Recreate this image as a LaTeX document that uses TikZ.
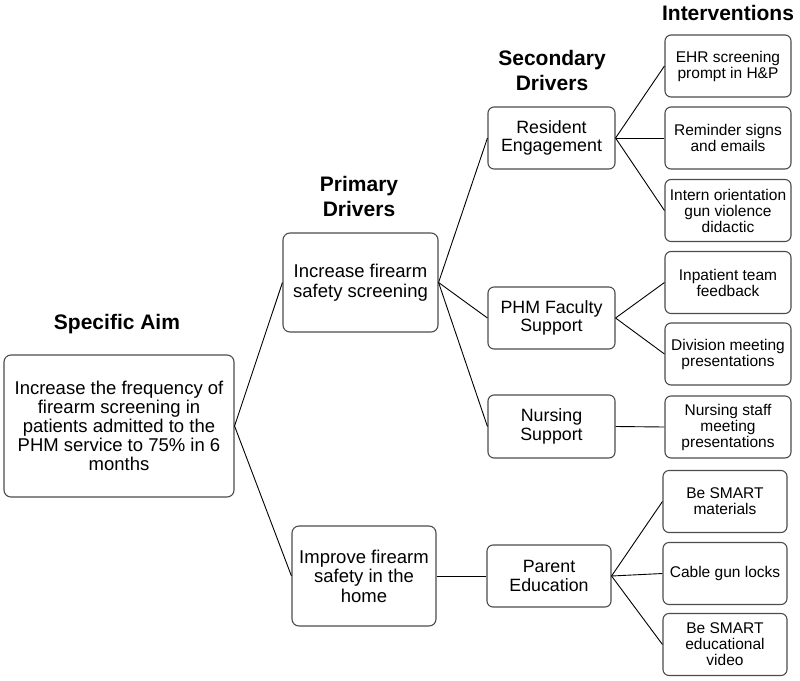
\documentclass[tikz,border=0pt]{standalone}
\usepackage{fontspec}
\setmainfont{Liberation Sans}
\begin{document}
\begin{tikzpicture}[x=1pt,y=-1pt,
  box/.style={draw=black!70,line width=1.1pt,rounded corners=7pt,align=center,inner sep=0pt},
  bigtxt/.style={font=\fontsize{18.5}{19}\selectfont},
  primtxt/.style={font=\fontsize{18.5}{19.5}\selectfont},
  midtxt/.style={font=\fontsize{17.8}{18.5}\selectfont},
  smalltxt/.style={font=\fontsize{15.5}{16}\selectfont},
  head/.style={font=\bfseries\fontsize{21}{25}\selectfont,align=center,inner sep=0pt},
  link/.style={draw=black,line width=0.9pt}]
\useasboundingbox (0,0) rectangle (800,680);
% headings
\node[head] (hAim) at (117,324) {Specific Aim};
\node[head] (hPrim) at (359,196) {Primary\\Drivers};
\node[head] (hSec) at (552,70) {Secondary\\Drivers};
\node[head] (hInt) at (728,13) {Interventions};
% aim
\node[box,bigtxt,minimum width=230pt,minimum height=142pt] (aim) at (119,426)
  {Increase the frequency of\\firearm screening in\\patients admitted to the\\PHM service to 75\% in 6\\months};
% primary drivers
\node[box,primtxt,minimum width=155pt,minimum height=99pt] (p1) at (360.5,282.5)
  {Increase firearm\\safety screening};
\node[box,primtxt,minimum width=144pt,minimum height=100pt] (p2) at (364,576)
  {Improve firearm\\safety in the\\home};
% secondary drivers
\node[box,midtxt,minimum width=127pt,minimum height=62pt,rounded corners=6pt] (s1) at (551.5,138) {Resident\\Engagement};
\node[box,midtxt,minimum width=127pt,minimum height=62pt,rounded corners=6pt] (s2) at (551.5,318) {PHM Faculty\\Support};
\node[box,midtxt,minimum width=127pt,minimum height=63pt,rounded corners=6pt] (s3) at (551.5,426.5) {Nursing\\Support};
\node[box,midtxt,minimum width=124pt,minimum height=62pt,rounded corners=6pt] (s4) at (549,576) {Parent\\Education};
% interventions
\tikzset{ibox/.style={box,smalltxt,minimum width=126pt,minimum height=62pt,rounded corners=6pt}}
\node[ibox] (i1) at (728,66) {EHR screening\\prompt in H\&P};
\node[ibox] (i2) at (728,138) {Reminder signs\\and emails};
\node[ibox] (i3) at (728,210.5) {Intern orientation\\gun violence\\didactic};
\node[ibox] (i4) at (728,282.5) {Inpatient team\\feedback};
\node[ibox] (i5) at (728,354) {Division meeting\\presentations};
\node[ibox] (i6) at (728,427) {Nursing staff\\meeting\\presentations};
\node[ibox,minimum width=124pt] (i7) at (725,501.5) {Be SMART\\materials};
\node[ibox,minimum width=124pt] (i8) at (725,573.5) {Cable gun locks};
\node[ibox,minimum width=124pt] (i9) at (725,644.5) {Be SMART\\educational\\video};
% connectors
\draw[link] (aim.east) -- (p1.west);
\draw[link] (aim.east) -- (p2.west);
\draw[link] (p1.east) -- (s1.west);
\draw[link] (p1.east) -- (s2.west);
\draw[link] (p1.east) -- (s3.west);
\draw[link] (p2.east) -- (s4.west);
\draw[link] (s1.east) -- (i1.west);
\draw[link] (s1.east) -- (i2.west);
\draw[link] (s1.east) -- (i3.west);
\draw[link] (s2.east) -- (i4.west);
\draw[link] (s2.east) -- (i5.west);
\draw[link] (s3.east) -- (i6.west);
\draw[link] (s4.east) -- (i7.west);
\draw[link] (s4.east) -- (i8.west);
\draw[link] (s4.east) -- (i9.west);
\end{tikzpicture}
\end{document}
